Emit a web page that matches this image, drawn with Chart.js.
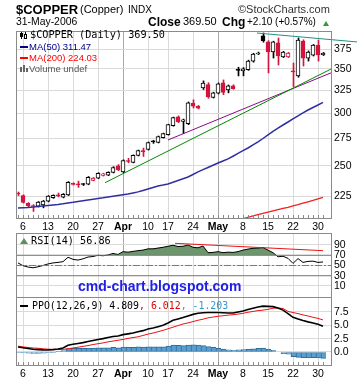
<!DOCTYPE html>
<html><head><meta charset="utf-8">
<script src="https://cdn.jsdelivr.net/npm/chart.js@4.4.0/dist/chart.umd.min.js"></script>
<style>
html,body{margin:0;padding:0;background:#fff;}
#wrap{position:relative;width:358px;height:383px;overflow:hidden;background:#fff;}
canvas{position:absolute;left:0;top:0;}
.t{position:absolute;white-space:nowrap;line-height:1;font-family:"Liberation Sans",Arial,sans-serif;color:#000;z-index:5;}
.m{font-family:"DejaVu Sans Mono",monospace;}
.ic{position:absolute;z-index:5;}
</style></head>
<body><div id="wrap">
<canvas id="cMain" width="358" height="383"></canvas>
<canvas id="cRsi" width="358" height="383"></canvas>
<canvas id="cPpo" width="358" height="383"></canvas>

<div class="t" style="left:16px;top:3px;font-size:13px;font-weight:bold;">$COPPER</div>
<div class="t" style="left:80px;top:4px;font-size:11px;">(Copper)</div>
<div class="t" style="left:128px;top:5px;font-size:10px;">INDX</div>
<div class="t" style="left:238px;top:4px;font-size:11px;color:#333;">&copy;StockCharts.com</div>
<div class="t" style="left:16px;top:16.5px;font-size:10.4px;">31-May-2006</div>
<div class="t" style="left:148px;top:15.5px;font-size:12px;font-weight:bold;">Close</div>
<div class="t" style="left:183px;top:16.2px;font-size:11px;">369.50</div>
<div class="t" style="left:222px;top:15.5px;font-size:12px;font-weight:bold;">Chg</div>
<div class="t" style="left:247px;top:17px;font-size:10px;">+2.10 (+0.57%)</div>
<div class="ic" style="left:323px;top:21px;width:0;height:0;border-left:3.5px solid transparent;border-right:3.5px solid transparent;border-bottom:5px solid #339933;"></div>

<div class="ic" style="left:21px;top:32px;width:1px;height:7px;background:#000;"></div>
<div class="ic" style="left:20px;top:33px;width:3px;height:4px;background:#000;"></div>
<div class="ic" style="left:25px;top:32px;width:1px;height:7px;background:#000;"></div>
<div class="ic" style="left:24px;top:34px;width:1px;height:3px;border:1px solid #000;background:#fff;"></div>
<div class="t m" style="left:30px;top:29.8px;font-size:10.2px;">$COPPER (Daily) 369.50</div>
<div class="ic" style="left:20px;top:46px;width:8px;height:2px;background:#000088;"></div>
<div class="t" style="left:29px;top:42px;font-size:9.5px;color:#000088;">MA(50) 311.47</div>
<div class="ic" style="left:20px;top:57px;width:8px;height:2px;background:#ff0000;"></div>
<div class="t" style="left:29px;top:53px;font-size:9.5px;color:#ff0000;">MA(200) 224.03</div>
<div class="ic" style="left:20px;top:67px;width:2px;height:5px;background:#666;"></div>
<div class="ic" style="left:23px;top:65px;width:2px;height:7px;background:#666;"></div>
<div class="ic" style="left:26px;top:68px;width:2px;height:4px;background:#666;"></div>
<div class="t" style="left:29px;top:63.5px;font-size:9.5px;color:#555;">Volume undef</div>

<div class="ic" style="left:20px;top:238px;width:0;height:0;border-left:4px solid transparent;border-right:4px solid transparent;border-bottom:6px solid #5e8e5e;"></div>
<div class="t m" style="left:31px;top:235.8px;font-size:10.2px;">RSI(14) 56.86</div>
<div class="t" style="left:78px;top:278.9px;font-size:14px;font-weight:bold;color:#1e1ee6;">cmd-chart.blogspot.com</div>
<div class="ic" style="left:20px;top:305px;width:8px;height:2px;background:#000;"></div>
<div class="t m" style="left:32px;top:301px;font-size:9.9px;">PPO(12,26,9) 4.809<span style="color:#e00000">, 6.012</span><span style="color:#3399cc">, -1.203</span></div>
</div>
<script>
// ---------- data ----------
const closeBefore = 227.8;
const open  = [227.0,225.3,219.4,217.6,217.3,218.2,221.0,223.8,225.8,224.2, 226.0,234.9,234.6,234.6,234.4,237.6,239.4,241.8,242.0,244.3, 250.0,244.6,254.3,253.0,259.1,263.2,264.5,272.5,271.0,275.7, 278.5,287.3,296.4,291.6,289.3,310.6,307.3,327.6,331.5,317.0, 321.8,333.3,325.4,329.9,349.0,347.6,349.0,359.5,368.6,392.5, 384.3,371.1,383.0,364.7,364.8,347.4,341.5,385.6,363.4,367.2, 380.2,367.6];
const high  = [228.2,226.0,220.0,218.4,220.8,221.6,225.4,226.0,227.4,227.0, 236.6,235.6,237.0,235.0,240.8,240.0,244.0,243.6,244.8,249.2, 251.0,255.2,256.5,259.6,264.0,265.8,271.5,273.0,277.2,280.0, 288.8,296.0,297.2,294.0,312.0,314.3,308.2,335.7,333.6,322.8, 333.3,336.8,331.0,331.2,352.0,351.5,360.8,369.5,371.0,396.5, 386.0,385.3,389.6,372.0,370.6,357.2,389.6,387.2,372.5,381.0, 386.9,370.5];
const low   = [225.4,219.6,216.9,213.3,216.6,216.0,220.5,223.2,224.4,223.6, 225.4,233.8,231.9,233.4,234.0,237.2,239.0,241.2,241.5,243.8, 245.8,244.0,252.6,252.5,258.6,258.2,264.0,270.2,270.6,275.2, 278.0,286.8,290.4,279.5,288.3,305.5,304.5,325.8,316.0,316.3, 320.8,320.0,322.0,326.0,341.5,341.6,348.2,358.2,367.8,384.0, 345.1,363.4,354.7,364.0,364.0,329.0,340.0,353.5,359.6,366.0, 359.6,366.6];
const close = [226.6,220.1,217.4,217.0,220.3,221.2,224.9,225.5,225.2,226.4, 236.0,234.3,234.0,234.2,240.1,239.5,243.4,243.0,244.3,248.5, 246.4,254.6,253.7,259.1,263.6,262.6,271.0,271.5,276.6,279.5, 288.3,295.4,291.3,293.3,311.1,307.6,305.4,333.0,317.5,322.0, 332.2,322.5,329.9,326.6,348.2,350.0,359.6,368.5,369.8,386.0, 371.1,384.3,366.0,371.1,369.6,346.3,386.9,363.4,371.1,380.2, 367.4,369.5];
const ma50  = [215.9,216.1,216.3,216.6,217.0,217.4,217.8,218.2,218.6,219.1, 219.7,220.2,220.8,221.4,222.0,222.6,223.2,223.7,224.3,224.9, 225.5,226.1,226.7,227.5,228.3,229.4,230.6,231.8,233.0,233.8, 234.7,236.1,237.5,238.9,240.4,242.5,244.7,246.6,248.5,250.4, 252.4,254.2,256.0,258.4,260.9,263.4,265.9,268.7,271.5,274.8, 278.2,281.6,285.0,288.0,291.0,294.1,297.2,300.3,303.4,306.0, 308.7,311.47];
const ma200 = [null,null,null,null,null,null,null,null,null,null, null,null,null,null,null,null,null,null,null,null, null,null,null,null,null,null,null,null,null,null, null,null,null,null,null,null,null,null,null,null, null,null,null,null,207.0,208.0,209.0,210.0,211.0,211.9, 212.8,213.7,214.6,215.5,216.4,217.4,218.4,219.5,220.6,221.7, 222.9,224.03];
const rsi   = [55,49.6,47,45.5,47.5,50,53,55,56,57.5, 66,62,60.5,63,66.5,67.5,70,69,70.5,73.5, 71.5,77,76,77.5,79,80,82.5,82.5,84,85.5, 87.5,89.5,87,87.5,90,85.5,84.5,88,75,75.5, 77,75,76,75.5,77,80,82,83.5,84,85, 80,75,67,68,64,54,63.5,56,58,58.5, 56,56.86];
const ppo   = [0.95,0.8,0.65,0.5,0.45,0.4,0.38,0.45,0.55,0.75, 1.25,1.45,1.6,1.75,1.95,2.15,2.35,2.5,2.7,2.9, 3.0,3.25,3.4,3.55,3.8,4.0,4.3,4.5,4.75,5.0, 5.45,5.95,6.2,6.45,6.75,7.05,7.25,7.35,7.4,7.4, 7.4,7.35,7.3,7.3,7.5,7.7,7.95,8.2,8.45,8.6, 8.55,8.5,8.25,7.85,7.2,6.5,6.2,5.9,5.65,5.45, 5.2,4.809];
const ppoSignal = [1.1,0.95,0.85,0.75,0.7,0.6,0.53,0.5,0.45,0.5, 0.6,0.75,0.9,1.05,1.2,1.4,1.55,1.7,1.9,2.05, 2.2,2.35,2.55,2.7,2.85,3.1,3.35,3.55,3.8,4.05, 4.35,4.65,4.95,5.25,5.45,5.7,5.95,6.15,6.4,6.55, 6.7,6.8,6.9,7.0,7.1,7.25,7.45,7.6,7.75,7.85, 8.0,8.2,8.25,8.15,7.6,7.4,7.2,6.95,6.75,6.5, 6.3,6.012];
const ppoHist = [-0.15,-0.15,-0.2,-0.25,-0.25,-0.2,-0.15,-0.05,0.1,0.25, 0.65,0.7,0.7,0.7,0.75,0.75,0.8,0.8,0.8,0.85, 0.8,0.9,0.85,0.85,0.95,0.9,0.95,0.95,0.95,0.95, 1.1,1.3,1.25,1.2,1.3,1.35,1.3,1.2,1.0,0.85, 0.7,0.55,0.4,0.3,0.4,0.45,0.5,0.6,0.7,0.75, 0.55,0.3,0.0,-0.3,-0.4,-0.9,-1.0,-1.05,-1.1,-1.05, -1.1,-1.203];
// trend lines (day index, value)
const greenTrendX = [17.4, 62.8],  greenTrendY = [235.7, 350.4];
const purpleTrendX = [30.0, 62.8], purpleTrendY = [273.4, 345.7];
const tealTrendX = [47.8, 67.8],   tealTrendY = [396.4, 384.3];
const rsiTrendX = [31.4, 61.0],    rsiTrendY = [93.3, 78.9];
const rsiLevels = [70, 50, 30];
// ticks
const xTickIdx = [1,6,11,16,21,26,30,35,40,45,50,55,60];
const xTickLabels = ['6','13','20','27','Apr','10','17','24','May','8','15','22','30'];
const priceTicks = [225,250,275,300,325,350,375];
const rsiTicks = [90,70,50,30,10];
const ppoTicks = [7.5,5,2.5,0];

// ---------- helpers ----------
const F = '"Liberation Sans", Arial, sans-serif';
const RED = '#d4143c';
const idx = close.map((_, i) => i);
const up = close.map((c, i) => c >= (i ? close[i-1] : closeBefore));
const cColor = up.map(u => u ? '#000000' : RED);
const cFill = idx.map(i => close[i] > open[i] ? '#ffffff' : cColor[i]);
const pts = (arr) => arr.map((v, i) => ({x: i, y: v}));
const pairs = (xs, ys) => xs.map((x, k) => ({x: x, y: ys[k]}));
const xTicks = () => xTickIdx.map((v, k) => ({value: v, major: isNaN(+xTickLabels[k])}));
const gridCol = ctx => (ctx.tick && ctx.tick.major) ? '#a8a8a8' : '#dadada';
const xFont = ctx => ({family: F, size: 10.5, weight: (ctx.tick && ctx.tick.major) ? 'bold' : 'normal'});
const X_MIN = -0.4, X_MAX = 62.8;

function xAxis(showLabels, h) {
  return {
    type: 'linear', min: X_MIN, max: X_MAX, offset: false,
    afterBuildTicks: ax => { ax.ticks = xTicks(); },
    afterFit: ax => { ax.height = h; },
    grid: {color: gridCol, drawTicks: false, offset: false},
    border: {display: false},
    ticks: {display: showLabels, autoSkip: false, maxRotation: 0, minRotation: 0, padding: 3,
            callback: (v, i) => xTickLabels[i], font: xFont, color: '#000'}
  };
}
const xwAxis = {type: 'linear', min: X_MIN - 0.1, max: X_MAX - 0.1, display: false, offset: false, grid: {offset: false}};
function yAxis(type, min, max, ticks, fmt) {
  return {
    type: type, position: 'right', min: min, max: max,
    afterBuildTicks: ax => { ax.ticks = ticks.map(v => ({value: v})); },
    afterFit: ax => { ax.width = 26; },
    grid: {color: '#dadada', drawTicks: false},
    border: {display: false},
    ticks: {padding: 2, callback: fmt, font: {family: F, size: 10.5}, color: '#000'}
  };
}
const frame = {id: 'frame', afterDraw(chart) {
  const {ctx, chartArea: a} = chart;
  ctx.save(); ctx.strokeStyle = '#8a8a8a'; ctx.lineWidth = 1;
  ctx.strokeRect(a.left + 0.5, a.top + 0.5, a.right - a.left - 1, a.bottom - a.top);
  ctx.restore();
}};
// small daily tick marks along the bottom edge, placed through the x scale
const dayTicks = {id: 'dayTicks', afterDatasetsDraw(chart) {
  const {ctx, chartArea: a, scales} = chart;
  ctx.save(); ctx.strokeStyle = '#8a8a8a'; ctx.lineWidth = 1; ctx.beginPath();
  idx.forEach(i => {
    const px = Math.round(scales.x.getPixelForValue(i)) + 0.5;
    ctx.moveTo(px, a.bottom); ctx.lineTo(px, a.bottom - 3);
  });
  ctx.stroke(); ctx.restore();
}};
const base = (pad) => ({
  responsive: false, animation: false, events: [],
  layout: {padding: pad, autoPadding: false},
  plugins: {legend: {display: false}, tooltip: {enabled: false}},
});
const line = (data, color, w, extra) => Object.assign({type: 'line', data: data, borderColor: color, borderWidth: w,
  pointRadius: 0, fill: false, tension: 0, order: 0}, extra || {});

// ---------- main price chart ----------
new Chart(document.getElementById('cMain'), {
  type: 'line',
  data: {datasets: [
    {type: 'bar', data: idx.map(i => ({x: i, y: [low[i], high[i]]})), xAxisID: 'xw', yAxisID: 'y',
     barThickness: 1, grouped: false, borderWidth: 0, backgroundColor: cColor, order: 3},
    {type: 'bar', data: idx.map(i => ({x: i, y: [open[i], close[i]]})), xAxisID: 'x', yAxisID: 'y',
     barThickness: 4, grouped: false, borderSkipped: false, borderWidth: 1, minBarLength: 1,
     borderColor: cColor, backgroundColor: cFill, order: 2},
    line(pts(ma50), '#2f2fa0', 1.5),
    line(pts(ma200), '#f02020', 1.3),
    line(pairs(greenTrendX, greenTrendY), '#008a00', 1),
    line(pairs(purpleTrendX, purpleTrendY), '#8a0a8a', 1),
    line(pairs(tealTrendX, tealTrendY), '#1f8f86', 1, {clip: false}),
  ]},
  options: Object.assign(base({left: 16, top: 31, right: 0, bottom: 145}), {
    scales: {
      x: xAxis(true, 20),
      xw: xwAxis,
      y: yAxis('logarithmic', 208.5, 399.2, priceTicks, v => String(v)),
    }
  }),
  plugins: [frame, dayTicks]
});

// ---------- RSI chart ----------
new Chart(document.getElementById('cRsi'), {
  type: 'line',
  data: {datasets: [
    line(pts(rsi), '#000000', 1, {order: 2, fill: {target: {value: 70}, above: '#6b966b', below: 'rgba(0,0,0,0)'}}),
    ...rsiLevels.map(l => line([{x: X_MIN, y: l}, {x: X_MAX, y: l}], '#7a7a7a', 1,
        {order: 1, borderDash: l === 50 ? [7, 2, 2, 2] : []})),
    line(pairs(rsiTrendX, rsiTrendY), '#ee1111', 1),
  ]},
  options: Object.assign(base({left: 16, top: 233, right: 0, bottom: 86}), {
    scales: {
      x: xAxis(false, 0),
      y: yAxis('linear', -11.5, 113.4, rsiTicks, v => String(v)),
    }
  }),
  plugins: [frame]
});

// ---------- PPO chart ----------
new Chart(document.getElementById('cPpo'), {
  type: 'line',
  data: {datasets: [
    {type: 'bar', data: pts(ppoHist), xAxisID: 'xw', yAxisID: 'y', barThickness: 5, grouped: false,
     borderSkipped: false, borderWidth: {left: 1, top: 1, bottom: 1, right: 0},
     backgroundColor: '#5a9fd0', borderColor: '#2f6e9c', order: 3},
    line(pts(ppoSignal), '#ee1111', 1, {order: 1}),
    line(pts(ppo), '#000000', 1.6, {order: 0}),
  ]},
  options: Object.assign(base({left: 16, top: 297, right: 0, bottom: 2}), {
    scales: {
      x: xAxis(true, 16),
      xw: xwAxis,
      y: yAxis('linear', -2.44, 10.31, ppoTicks, v => v.toFixed(1)),
    }
  }),
  plugins: [frame, dayTicks]
});
</script>
</body></html>
